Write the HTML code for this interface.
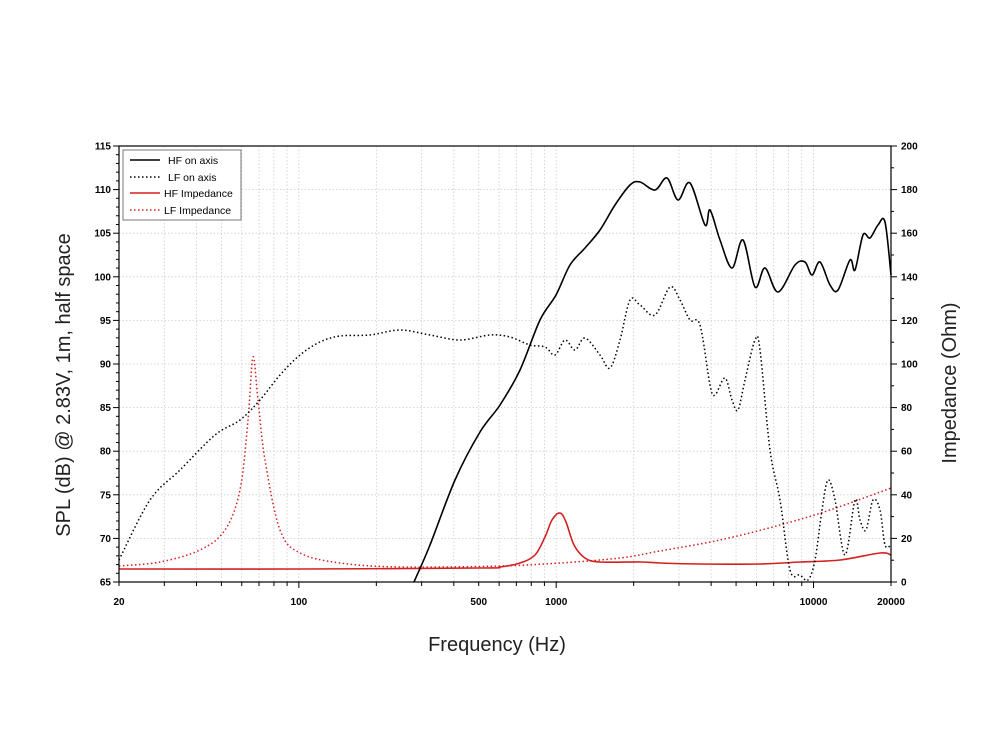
<!DOCTYPE html>
<html><head><meta charset="utf-8"><style>
body{margin:0;background:#fff;}
svg{display:block;font-family:"Liberation Sans","DejaVu Sans",sans-serif;}
</style></head><body>
<svg id="s" width="1000" height="750" xmlns="http://www.w3.org/2000/svg">
<g id="grid"></g>
<g id="ticks" stroke="#000" stroke-width="1"></g>
<g id="labels" font-size="10" font-weight="bold" fill="#000"></g>
<g id="curves" fill="none" stroke-linejoin="round"></g>
<rect x="119" y="146" width="772" height="436" fill="none" stroke="#000" stroke-width="1.2"/>
<g>
<rect x="123" y="150" width="118" height="70" fill="#fff" stroke="#777" stroke-width="1"/>
<line x1="130" y1="160" x2="160" y2="160" stroke="#000" stroke-width="1.5"/>
<line x1="130" y1="177" x2="160" y2="177" stroke="#000" stroke-width="1.5" stroke-dasharray="1.5,2.5"/>
<line x1="130" y1="193" x2="160" y2="193" stroke="#d42020" stroke-width="1.5"/>
<line x1="130" y1="210" x2="160" y2="210" stroke="#d42020" stroke-width="1.5" stroke-dasharray="1.5,2.5"/>
<text x="168" y="164" font-size="10.5">HF on axis</text>
<text x="168" y="181" font-size="10.5">LF on axis</text>
<text x="164" y="197" font-size="10.5">HF Impedance</text>
<text x="164" y="214" font-size="10.5">LF Impedance</text>
</g>
<text x="497" y="651" font-size="20" text-anchor="middle" fill="#222">Frequency (Hz)</text>
<text transform="translate(70,385) rotate(-90)" font-size="20" text-anchor="middle" fill="#222">SPL (dB) @ 2.83V, 1m, half space</text>
<text transform="translate(956,383) rotate(-90)" font-size="20" text-anchor="middle" fill="#222">Impedance (Ohm)</text>
</svg>
<script>
const NS="http://www.w3.org/2000/svg";
function el(p,t,a,txt){const e=document.createElementNS(NS,t);for(const k in a)e.setAttribute(k,a[k]);if(txt!==undefined)e.textContent=txt;document.getElementById(p).appendChild(e);}
const L=119,R=891,T=146,B=582;
const fx=f=>L+(Math.log10(f)-Math.log10(20))*(R-L)/3;
const dy=d=>B-(d-65)*(B-T)/50;
for(let dec=10;dec<=10000;dec*=10)for(let m=1;m<10;m++){const f=dec*m;if(f<20||f>20000)continue;const x=fx(f);
 if(f>20&&f<20000)el("grid","line",{x1:x,y1:T,x2:x,y2:B,stroke:"#ccc","stroke-width":0.8,"stroke-dasharray":"1.5,2"});
 el("ticks","line",{x1:x,y1:B,x2:x,y2:B+(m==1?6:4)});}
[[20,"20"],[100,"100"],[500,"500"],[1000,"1000"],[10000,"10000"],[20000,"20000"]].forEach(([f,t])=>el("labels","text",{x:fx(f),y:605,"text-anchor":"middle"},t));
for(let d=65;d<=115;d++){const y=dy(d);const maj=d%5==0;
 el("ticks","line",{x1:L-(maj?6:3),y1:y,x2:L,y2:y});
 if(maj){if(d>65&&d<115)el("grid","line",{x1:L,y1:y,x2:R,y2:y,stroke:"#ccc","stroke-width":0.8,"stroke-dasharray":"1.5,2"});
 el("labels","text",{x:L-8,y:y+3.5,"text-anchor":"end"},d);}}
for(let o=0;o<=200;o+=10){const y=B-o*(B-T)/200;const maj=o%20==0;
 el("ticks","line",{x1:R,y1:y,x2:R+(maj?6:3),y2:y});
 if(maj)el("labels","text",{x:R+10,y:y+3.5},o);}
function path(pts,col,dash,w){let d="M"+pts[0].join(",");const n=pts.length;
 for(let i=0;i<n-1;i++){const p0=pts[Math.max(0,i-1)],p1=pts[i],p2=pts[i+1],p3=pts[Math.min(n-1,i+2)];
  const c1=[p1[0]+(p2[0]-p0[0])/6,p1[1]+(p2[1]-p0[1])/6],c2=[p2[0]-(p3[0]-p1[0])/6,p2[1]-(p3[1]-p1[1])/6];
  d+=" C"+c1.join(",")+" "+c2.join(",")+" "+p2.join(",");}
 const a={d:d,stroke:col,"stroke-width":w};if(dash)a["stroke-dasharray"]=dash;el("curves","path",a);}
const lfimp=[[119,566],[160,562],[200,550],[225,530],[240,490],[248,420],[253,357],[258,400],[265,460],[280,530],[300,553],[340,563],[400,567],[500,566],[560,563],[620,558],[660,551],[720,540],[780,525],[830,510],[891,488]];
const hfimp=[[119,569],[300,569],[480,568],[500,567],[520,563],[535,555],[545,537],[552,520],[560,513],[566,522],[574,545],[585,558],[600,562],[640,562],[660,563],[700,564],[760,564],[800,562],[840,560],[880,553],[891,555]];
const lf=[[119,560],[150,500],[180,470],[215,435],[240,420],[260,400],[280,375],[300,355],[320,342],[340,336],[370,335],[400,330],[430,335],[460,340],[490,335],[510,337],[530,345],[545,347],[555,355],[565,340],[575,350],[585,338],[600,355],[610,368],[620,340],[630,300],[640,305],[655,315],[670,287],[680,300],[690,320],[700,325],[710,385],[715,395],[725,378],[732,400],[738,410],[745,380],[755,340],[760,350],[770,450],[780,500],[790,570],[800,575],[808,580],[815,560],[822,510],[828,480],[835,500],[845,555],[855,500],[860,520],[866,530],[873,500],[880,510],[885,545],[891,545]];
const hf=[[414,582],[430,545],[455,480],[480,432],[500,405],[520,370],[540,320],[556,295],[570,265],[585,248],[600,230],[615,205],[630,185],[640,182],[655,190],[667,178],[678,200],[690,183],[705,225],[710,210],[720,240],[732,268],[743,240],[755,287],[765,268],[778,292],[795,265],[805,262],[812,275],[820,262],[830,285],[838,290],[850,260],[855,270],[863,235],[870,238],[878,225],[885,222],[891,275]];
path(lfimp,"#d42020","1.5,2.5",1.5);
path(hfimp,"#d42020",null,1.6);
path(lf,"#000","1.5,2.5",1.5);
path(hf,"#000",null,1.6);
</script>
</body></html>
